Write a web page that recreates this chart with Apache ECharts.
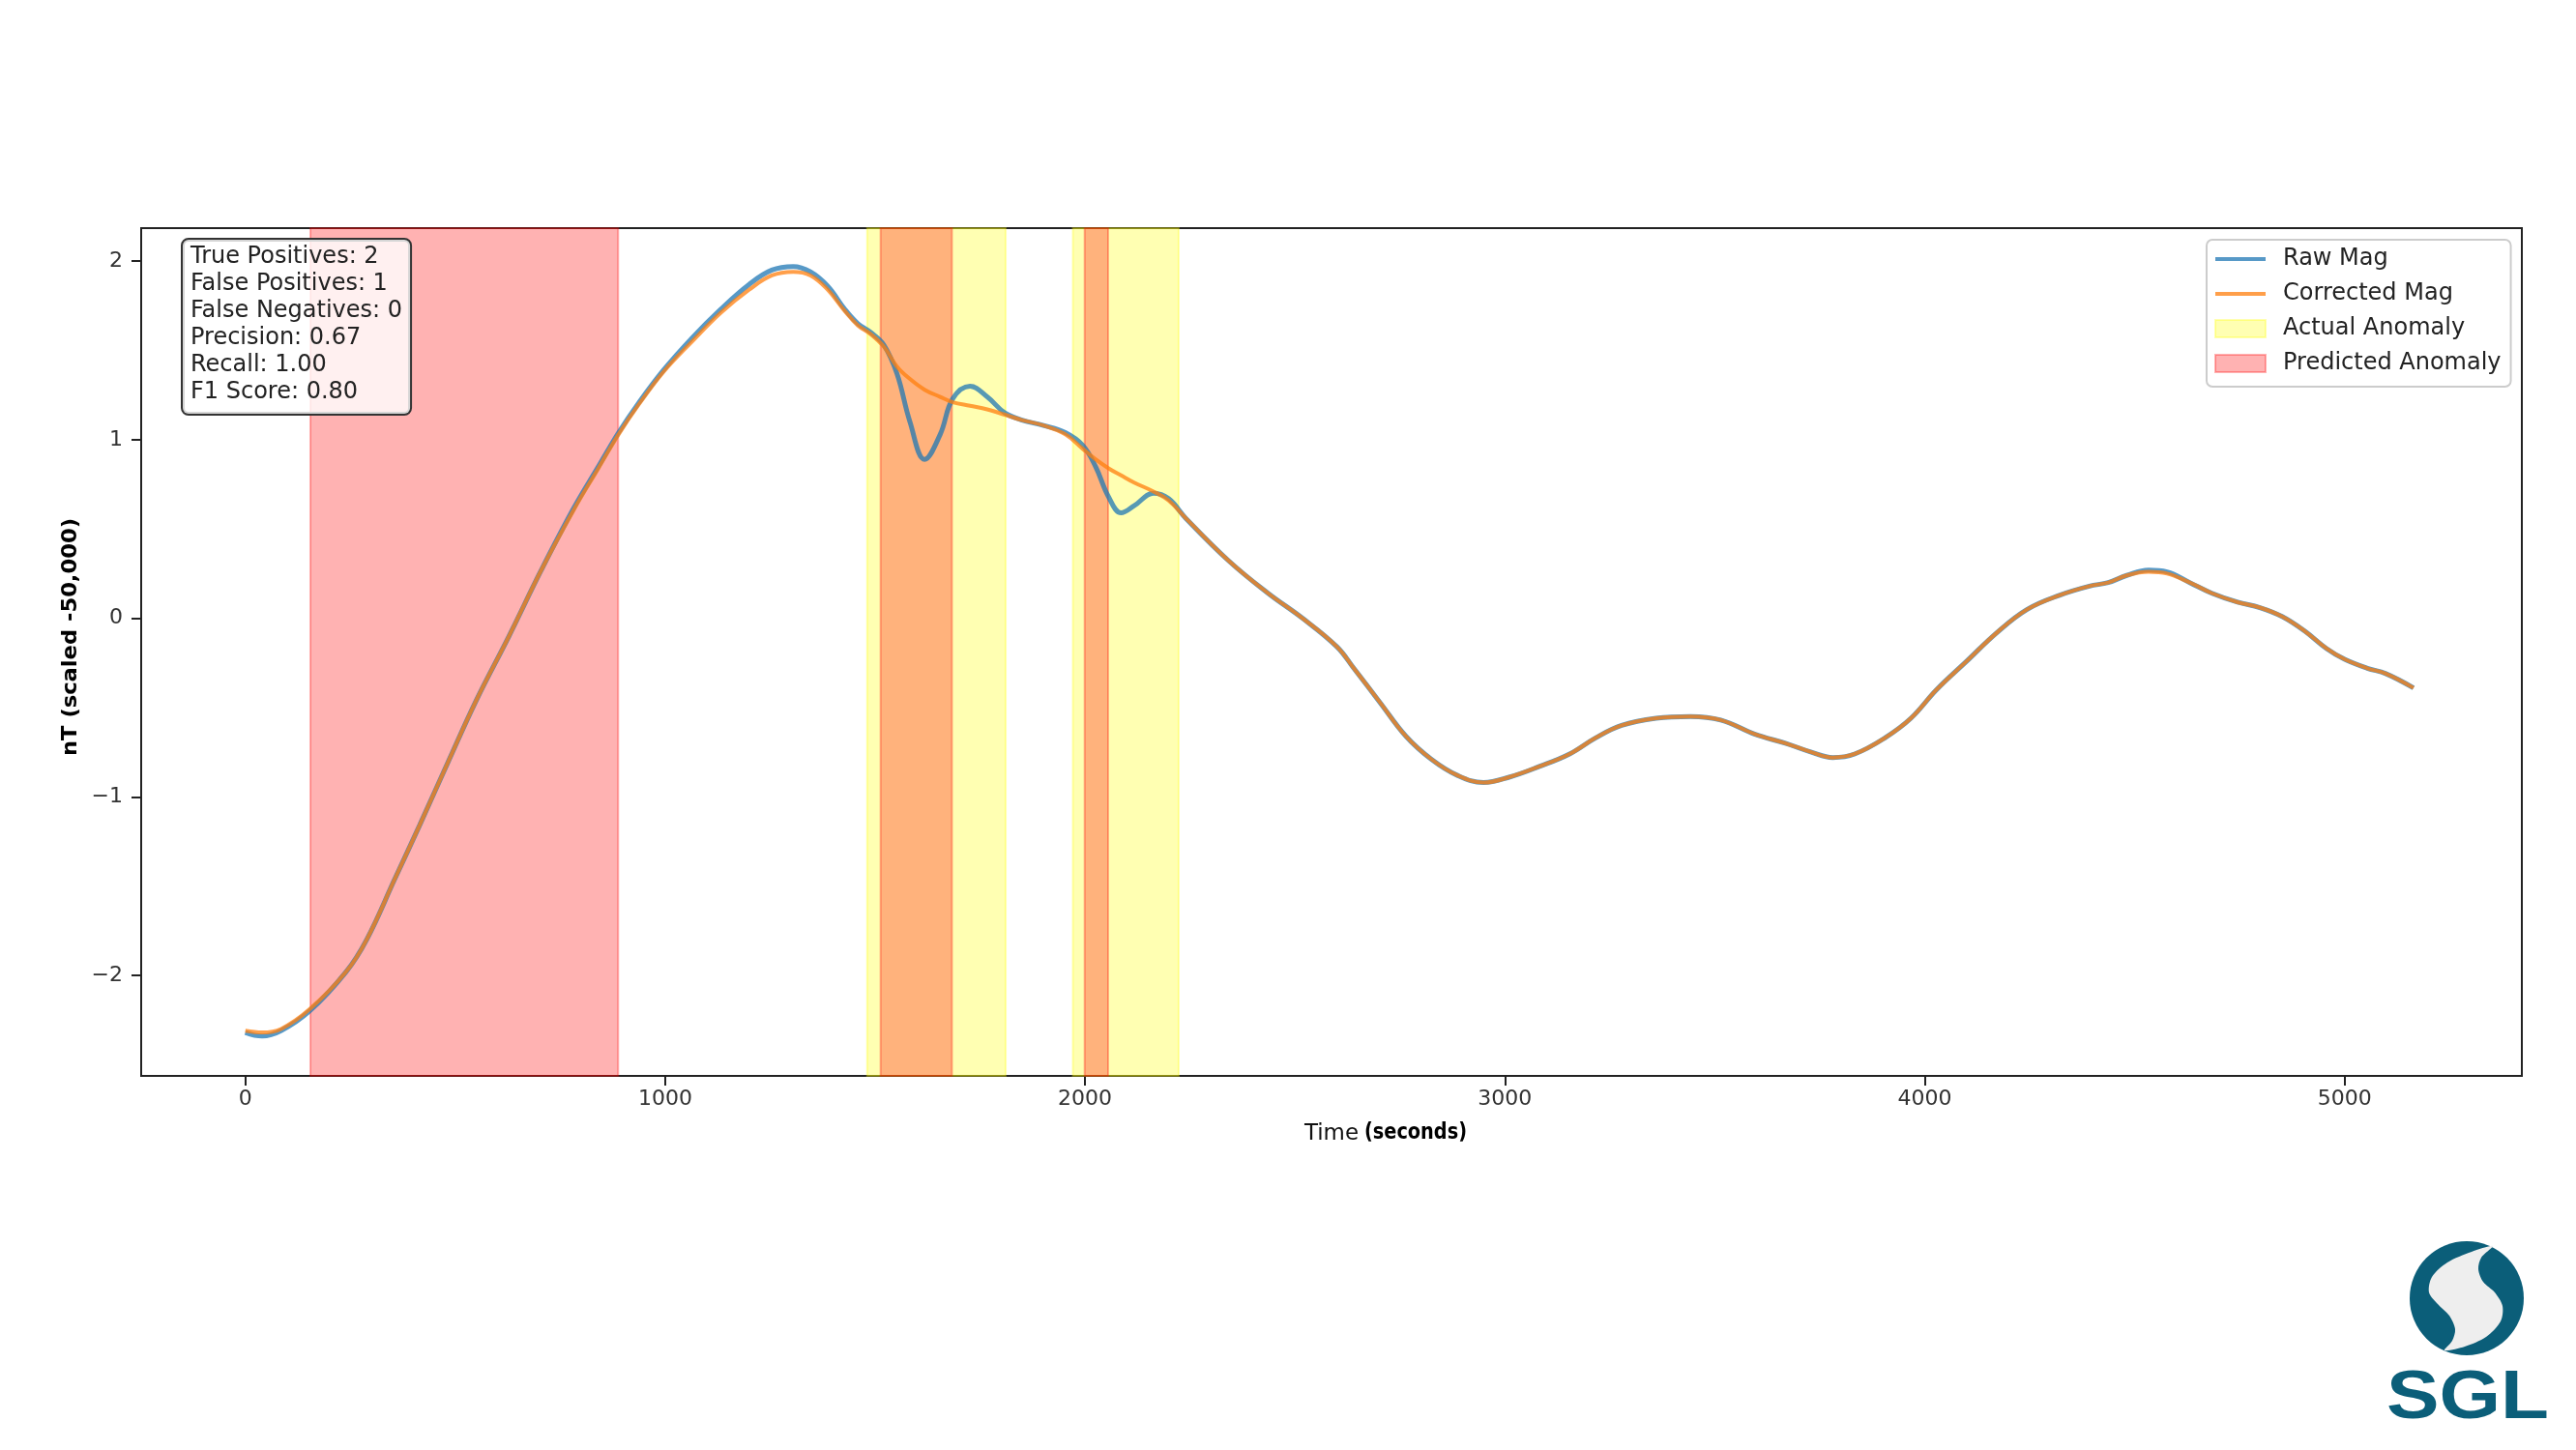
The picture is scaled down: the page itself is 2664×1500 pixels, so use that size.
<!DOCTYPE html>
<html>
<head>
<meta charset="utf-8">
<script src="https://cdn.jsdelivr.net/npm/echarts@6/dist/echarts.min.js"></script>
<style>
html, body { margin: 0; padding: 0; background: #ffffff; }
#chart { width: 2664px; height: 1500px; }
</style>
</head>
<body>
<div id="chart"></div>
<script>
// ---------------- data ----------------
const timeSec = [0, 40, 85, 153, 240, 289, 356, 415, 482, 550,
  628, 705, 783, 841, 889, 938, 996, 1064, 1132, 1200,
  1254, 1305, 1346, 1387, 1428, 1459, 1490, 1521, 1552, 1583,
  1618, 1655, 1685, 1726, 1767, 1809, 1850, 1901, 1953, 1994,
  2025, 2056, 2086, 2117, 2163, 2199, 2240, 2343, 2436, 2518,
  2600, 2640, 2702, 2764, 2825, 2887, 2949, 3010, 3082, 3154,
  3216, 3278, 3360, 3442, 3514, 3596, 3668, 3730, 3781, 3833,
  3905, 3967, 4028, 4100, 4172, 4244, 4322, 4392, 4437, 4481,
  4533, 4577, 4631, 4684, 4745, 4798, 4851, 4904, 4957, 5000,
  5054, 5098, 5164];

const rawMag = [-2.32, -2.34, -2.31, -2.20, -1.98, -1.80, -1.46, -1.16, -0.81, -0.46,
  -0.10, 0.27, 0.62, 0.85, 1.04, 1.21, 1.39, 1.57, 1.73, 1.87,
  1.95, 1.97, 1.94, 1.86, 1.73, 1.65, 1.60, 1.53, 1.37, 1.10,
  0.89, 1.03, 1.23, 1.30, 1.24, 1.15, 1.11, 1.08, 1.04, 0.97,
  0.85, 0.68, 0.59, 0.63, 0.70, 0.67, 0.56, 0.32, 0.14, 0.00,
  -0.16, -0.28, -0.47, -0.66, -0.79, -0.88, -0.92, -0.89, -0.83, -0.76,
  -0.67, -0.60, -0.56, -0.55, -0.57, -0.65, -0.70, -0.75, -0.78, -0.76,
  -0.67, -0.56, -0.40, -0.24, -0.08, 0.05, 0.13, 0.18, 0.20, 0.24,
  0.27, 0.26, 0.20, 0.14, 0.09, 0.06, 0.01, -0.07, -0.17, -0.23,
  -0.28, -0.31, -0.39];

const correctedMag = [-2.31, -2.32, -2.30, -2.19, -1.98, -1.80, -1.46, -1.16, -0.81, -0.46,
  -0.10, 0.27, 0.61, 0.84, 1.03, 1.20, 1.38, 1.55, 1.71, 1.84,
  1.92, 1.94, 1.92, 1.84, 1.72, 1.64, 1.59, 1.52, 1.41, 1.34,
  1.28, 1.24, 1.21, 1.19, 1.17, 1.14, 1.11, 1.08, 1.03, 0.95,
  0.89, 0.84, 0.80, 0.76, 0.71, 0.66, 0.56, 0.32, 0.14, 0.00,
  -0.16, -0.28, -0.47, -0.66, -0.79, -0.88, -0.92, -0.89, -0.83, -0.76,
  -0.67, -0.60, -0.56, -0.55, -0.57, -0.65, -0.70, -0.75, -0.78, -0.76,
  -0.67, -0.56, -0.40, -0.24, -0.08, 0.05, 0.13, 0.18, 0.20, 0.24,
  0.26, 0.25, 0.20, 0.14, 0.09, 0.06, 0.01, -0.07, -0.17, -0.23,
  -0.28, -0.31, -0.39];

const actualStart = [1481, 1971];
const actualEnd = [1811, 2223];
const predictedStart = [155, 1513, 1999];
const predictedEnd = [888, 1683, 2055];

const xTicks = [0, 1000, 2000, 3000, 4000, 5000];
const xTickLabels = ['0', '1000', '2000', '3000', '4000', '5000'];
const yTicks = [-2, -1, 0, 1, 2];
const yTickLabels = ['\u22122', '\u22121', '0', '1', '2'];

const seriesNames = ['Raw Mag', 'Corrected Mag', 'Actual Anomaly', 'Predicted Anomaly'];
const metricLines = ['True Positives: 2', 'False Positives: 1', 'False Negatives: 0',
  'Precision: 0.67', 'Recall: 1.00', 'F1 Score: 0.80'];
const xTitleParts = ['Time', '(seconds)'];
const yTitle = 'nT (scaled -50,000)';
const logoText = 'SGL';

// ---------------- helpers ----------------
const ctx2d = document.createElement('canvas').getContext('2d');
function textWidth(text, font) { ctx2d.font = font; return ctx2d.measureText(text).width; }

const NARROW = '"Liberation Sans Narrow", "DejaVu Sans Condensed", "DejaVu Sans", sans-serif';
const fontY = 'bold 21px ' + NARROW;
const fontXa = '23px ' + NARROW;
const fontXb = 'bold 23px ' + NARROW;
const fontLogo = 'bold 70px "Liberation Sans", Arial, sans-serif';

const yTitleScale = 246 / textWidth(yTitle, fontY);
const xTitleAScale = 56 / textWidth(xTitleParts[0], fontXa);
const xTitleBScale = 106 / textWidth(xTitleParts[1], fontXb);
const logoScale = 168 / textWidth(logoText, fontLogo);

const TEAL = '#0b5e79';
// outline of the light "S" inside the logo disc (local coordinates, disc radius 59)
const logoSwoosh = [[27, -54], [5, -48], [-20, -37], [-36, -22], [-39, -6], [-30, 6], [-18, 18],
  [-12, 32], [-15, 44], [-23, 54], [-2, 50], [20, 40], [35, 24], [37, 8], [29, -6], [17, -17],
  [12, -30], [15, -42]];

// ---------------- chart ----------------
const chart = echarts.init(document.getElementById('chart'), null, { renderer: 'canvas' });

const option = {
  animation: false,
  backgroundColor: '#ffffff',
  grid: {
    left: 146, right: 56, top: 236, bottom: 387,
    show: true, borderColor: '#222222', borderWidth: 2, backgroundColor: 'transparent'
  },
  xAxis: {
    type: 'value', min: -248, max: 5422,
    splitLine: { show: false },
    axisLine: { show: false, onZero: false },
    axisTick: { show: true, customValues: xTicks, length: 10, lineStyle: { color: '#222', width: 2 } },
    axisLabel: {
      customValues: xTicks, margin: 13,
      formatter: v => xTickLabels[xTicks.indexOf(v)],
      fontSize: 22, fontFamily: '"DejaVu Sans", sans-serif', color: '#333'
    }
  },
  yAxis: {
    type: 'value', min: -2.563, max: 2.185,
    splitLine: { show: false },
    axisLine: { show: false, onZero: false },
    axisTick: { show: true, customValues: yTicks, length: 10, lineStyle: { color: '#222', width: 2 } },
    axisLabel: {
      customValues: yTicks, margin: 19,
      formatter: v => yTickLabels[yTicks.indexOf(v)],
      fontSize: 22, fontFamily: '"DejaVu Sans", sans-serif', color: '#333'
    }
  },
  legend: {
    orient: 'vertical', left: 2282, top: 248,
    selectedMode: false,
    itemWidth: 52, itemHeight: 18, itemGap: 12,
    padding: [8, 10, 12, 8],
    backgroundColor: 'rgba(255,255,255,0.8)',
    borderColor: '#cccccc', borderWidth: 2, borderRadius: 6,
    textStyle: { fontSize: 24, fontFamily: '"DejaVu Sans", sans-serif', color: '#222', padding: [0, 0, 0, 13] },
    data: [
      { name: seriesNames[0], icon: 'path://M0,0L52,0L52,4L0,4Z', itemStyle: { color: 'rgba(31,119,180,0.75)', borderWidth: 0 } },
      { name: seriesNames[1], icon: 'path://M0,0L52,0L52,4L0,4Z', itemStyle: { color: 'rgba(255,127,14,0.75)', borderWidth: 0 } },
      { name: seriesNames[2], icon: 'rect', itemStyle: { color: 'rgba(255,255,0,0.3)', borderColor: 'rgba(255,255,0,0.3)', borderWidth: 2 } },
      { name: seriesNames[3], icon: 'rect', itemStyle: { color: 'rgba(255,0,0,0.3)', borderColor: 'rgba(255,0,0,0.3)', borderWidth: 2 } }
    ]
  },
  series: [
    {
      name: seriesNames[2], type: 'line', data: [], z: 1,
      itemStyle: { color: 'rgba(255,255,0,0.3)' },
      markArea: {
        silent: true,
        itemStyle: { color: 'rgba(255,255,0,0.3)', borderColor: 'rgba(255,255,0,0.3)', borderWidth: 2 },
        data: actualStart.map((s, i) => [{ xAxis: s }, { xAxis: actualEnd[i] }])
      }
    },
    {
      name: seriesNames[3], type: 'line', data: [], z: 1,
      itemStyle: { color: 'rgba(255,0,0,0.3)' },
      markArea: {
        silent: true,
        itemStyle: { color: 'rgba(255,0,0,0.3)', borderColor: 'rgba(255,0,0,0.3)', borderWidth: 2 },
        data: predictedStart.map((s, i) => [{ xAxis: s }, { xAxis: predictedEnd[i] }])
      }
    },
    {
      name: seriesNames[0], type: 'line', z: 3,
      data: timeSec.map((t, i) => [t, rawMag[i]]),
      smooth: 0.4, symbol: 'none', showSymbol: false,
      itemStyle: { color: '#1f77b4' },
      lineStyle: { color: '#1f77b4', width: 5, opacity: 0.75 }
    },
    {
      name: seriesNames[1], type: 'line', z: 4,
      data: timeSec.map((t, i) => [t, correctedMag[i]]),
      smooth: 0.4, symbol: 'none', showSymbol: false,
      itemStyle: { color: '#ff7f0e' },
      lineStyle: { color: '#ff7f0e', width: 4, opacity: 0.75 }
    }
  ],
  graphic: [
    {
      type: 'text', left: 187, top: 246, z: 100,
      style: {
        text: metricLines.join('\n'),
        font: '24px "DejaVu Sans", sans-serif', fill: '#222', lineHeight: 28,
        backgroundColor: 'rgba(255,255,255,0.8)', borderColor: '#333', borderWidth: 2, borderRadius: 6,
        padding: [4, 8, 8, 8]
      }
    },
    {
      type: 'text', x: 74, y: 659, rotation: Math.PI / 2, scaleX: yTitleScale, z: 100,
      style: { text: yTitle, font: fontY, fill: '#000', align: 'center', verticalAlign: 'middle' }
    },
    {
      type: 'text', x: 1349, y: 1173, scaleX: xTitleAScale, z: 100,
      style: { text: xTitleParts[0], font: fontXa, fill: '#111', align: 'left', verticalAlign: 'middle' }
    },
    {
      type: 'text', x: 1411, y: 1172, scaleX: xTitleBScale, z: 100,
      style: { text: xTitleParts[1], font: fontXb, fill: '#000', align: 'left', verticalAlign: 'middle' }
    },
    {
      type: 'group', x: 2551, y: 1343, z: 100,
      children: [
        { type: 'circle', shape: { cx: 0, cy: 0, r: 59 }, style: { fill: TEAL } },
        { type: 'polygon', shape: { points: logoSwoosh, smooth: 0.3 }, style: { fill: '#eeeeee' } },
        {
          type: 'text', x: 1, y: 105, scaleX: logoScale,
          style: { text: logoText, font: fontLogo, fill: TEAL, align: 'center', verticalAlign: 'middle' }
        }
      ]
    }
  ]
};

chart.setOption(option);
</script>
</body>
</html>
